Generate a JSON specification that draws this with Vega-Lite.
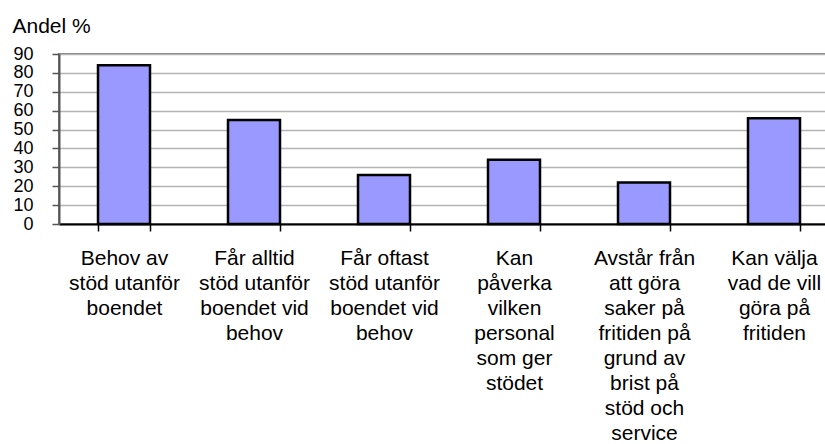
{
  "$schema": "https://vega.github.io/schema/vega-lite/v6.json",
  "autosize": {"type": "none"},
  "padding": {"left": 59, "top": 54, "right": 0, "bottom": 220},
  "width": 780,
  "height": 170,
  "background": "white",
  "config": {
    "font": "Liberation Sans",
    "view": {"stroke": "#808080", "strokeWidth": 2}
  },
  "data": {
    "values": [
      {"kategori": "Behov av\nstöd utanför\nboendet", "andel": 84},
      {"kategori": "Får alltid\nstöd utanför\nboendet vid\nbehov", "andel": 55},
      {"kategori": "Får oftast\nstöd utanför\nboendet vid\nbehov", "andel": 26},
      {"kategori": "Kan\npåverka\nvilken\npersonal\nsom ger\nstödet", "andel": 34},
      {"kategori": "Avstår från\natt göra\nsaker på\nfritiden på\ngrund av\nbrist på\nstöd och\nservice", "andel": 22},
      {"kategori": "Kan välja\nvad de vill\ngöra på\nfritiden", "andel": 56}
    ]
  },
  "mark": {"type": "bar", "fill": "#9999FF", "stroke": "#000000", "strokeWidth": 2.5},
  "encoding": {
    "x": {
      "field": "kategori",
      "type": "nominal",
      "sort": null,
      "scale": {"paddingInner": 0.6, "paddingOuter": 0.3},
      "axis": {
        "title": null,
        "labelAngle": 0,
        "labelExpr": "split(datum.label, '\\n')",
        "labelFontSize": 21,
        "labelLineHeight": 25,
        "labelColor": "#000000",
        "labelPadding": 16,
        "labelLimit": 200,
        "labelBaseline": "top",
        "labelOverlap": false,
        "tickBand": "extent",
        "tickSize": 7,
        "tickColor": "#000000",
        "tickWidth": 1.5,
        "domainColor": "#000000",
        "domainWidth": 2,
        "grid": false
      }
    },
    "y": {
      "field": "andel",
      "type": "quantitative",
      "scale": {"domain": [0, 90], "nice": false},
      "axis": {
        "values": [0, 10, 20, 30, 40, 50, 60, 70, 80, 90],
        "title": "Andel %",
        "titleAngle": 0,
        "titleAlign": "left",
        "titleBaseline": "alphabetic",
        "titleX": -47,
        "titleY": -22,
        "titleFontSize": 21,
        "titleFontWeight": "normal",
        "titleColor": "#000000",
        "labelFontSize": 18,
        "labelColor": "#000000",
        "labelPadding": 19,
        "labelOverlap": false,
        "labelBound": false,
        "tickSize": 7,
        "tickColor": "#555555",
        "tickWidth": 1.5,
        "domainColor": "#555555",
        "domainWidth": 2,
        "grid": true,
        "gridColor": "#b4b4b4",
        "gridWidth": 1.5
      }
    }
  }
}
